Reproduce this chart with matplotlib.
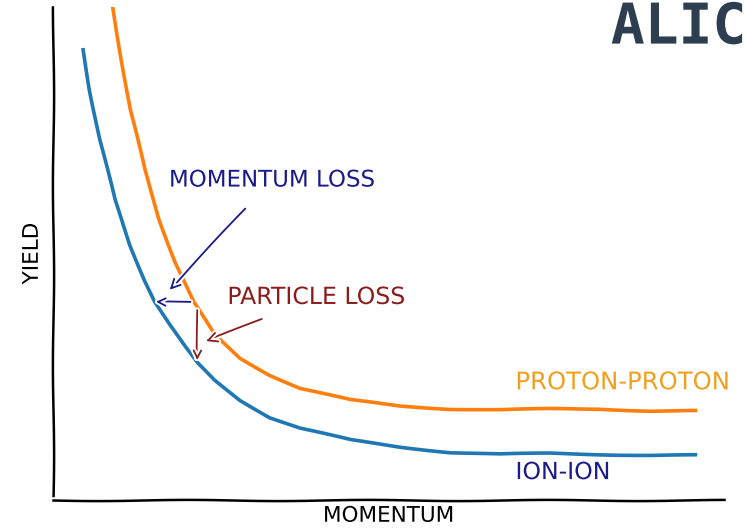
import matplotlib
matplotlib.use("Agg")
import matplotlib.pyplot as plt

# momentum (x) and yield (y) of the two spectra, arbitrary units
ion_x = [4.5, 5.5, 7.0, 9.2, 11.5, 13.7, 15.2, 17.4, 19.7, 21.5, 24.1, 27.9,
         32.3, 36.8, 44.3, 51.7, 59.2, 66.6, 74.1, 81.5, 89.0, 95.7]
ion_y = [91.3, 83.2, 73.0, 60.9, 51.7, 44.6, 40.2, 35.5, 31.0, 27.8, 24.3, 20.3,
         16.8, 14.6, 12.2, 10.8, 9.7, 9.3, 9.5, 9.3, 9.1, 9.1]

pp_x = [8.9, 10.0, 11.5, 13.7, 15.9, 18.2, 20.9, 24.1, 27.9, 32.3, 36.8, 44.3,
        51.7, 59.2, 66.6, 74.1, 81.5, 89.0, 95.7]
pp_y = [100.0, 91.3, 79.1, 66.9, 56.8, 48.3, 40.2, 33.5, 28.8, 25.4, 22.7, 20.3,
        19.1, 18.5, 18.3, 18.5, 18.5, 18.1, 18.1]

with plt.xkcd(scale=0.6, length=180, randomness=1):
    plt.rcParams['font.family'] = ['DejaVu Sans']
    plt.rcParams['axes.linewidth'] = 1.8

    fig = plt.figure(figsize=(7.56, 5.31), dpi=100)
    ax = fig.add_axes([0.070, 0.058, 0.888, 0.929])

    ax.plot(pp_x, pp_y, color='#ff7f0e', lw=2.6)
    ax.plot(ion_x, ion_y, color='#1f77b4', lw=2.6)

    ax.set_xlim(0, 100)
    ax.set_ylim(0, 100)
    ax.spines['top'].set_visible(False)
    ax.spines['right'].set_visible(False)
    ax.set_xticks([])
    ax.set_yticks([])
    ax.set_xlabel('MOMENTUM', fontsize=15.5, labelpad=4)
    ax.set_ylabel('YIELD', fontsize=15.5, labelpad=8)

    navy = '#1a1a8a'
    red = '#8b1c1c'

    # momentum loss: shift from proton-proton curve to ion-ion curve
    ax.annotate('', xy=(14.9, 40.2), xytext=(20.9, 40.2),
                arrowprops=dict(arrowstyle='->', color=navy, lw=1.3))
    ax.annotate('MOMENTUM LOSS', xy=(17.1, 42.2), xytext=(32.6, 64.9),
                color=navy, fontsize=16.5, ha='center', va='center',
                arrowprops=dict(arrowstyle='->', color=navy, lw=1.3,
                                shrinkA=14))

    # particle loss: drop in yield at fixed momentum
    ax.annotate('', xy=(21.5, 27.8), xytext=(21.5, 39.1),
                arrowprops=dict(arrowstyle='->', color=red, lw=1.3))
    ax.annotate('PARTICLE LOSS', xy=(22.4, 32.0), xytext=(39.3, 41.2),
                color=red, fontsize=17, ha='center', va='center',
                arrowprops=dict(arrowstyle='->', color=red, lw=1.3,
                                shrinkA=14))

    ax.text(68.9, 23.9, 'PROTON-PROTON', color='#f0a020', fontsize=17.5,
            ha='left', va='center')
    ax.text(68.9, 5.7, 'ION-ION', color=navy, fontsize=17,
            ha='left', va='center')

    fig.text(0.808, 0.997, 'ALIC', fontsize=40.5, fontweight='bold',
             family='DejaVu Sans Mono', color='#2c3e50', ha='left', va='top')

    fig.savefig('out.png', dpi=100)
